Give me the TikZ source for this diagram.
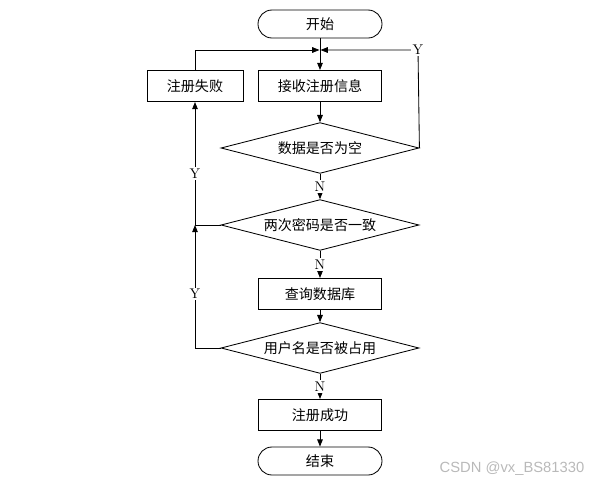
\documentclass[tikz,border=0pt]{standalone}
\usepackage{fontspec}
\newfontfamily\cjk{Noto Sans CJK SC}
\newfontfamily\wmfont{Liberation Sans}
\usetikzlibrary{shapes.geometric, arrows.meta, positioning, calc}

\begin{document}
\begin{tikzpicture}[
  line width=0.6pt,
  term/.style={rectangle, rounded corners=0.35cm, draw, minimum width=3.1cm, minimum height=0.7cm, font=\cjk\fontsize{10}{12}\selectfont},
  proc/.style={rectangle, draw, minimum width=3.08cm, minimum height=0.78cm, font=\cjk\fontsize{10}{12}\selectfont},
  decide/.style={diamond, draw, aspect=4, inner sep=0pt, minimum width=4.95cm, minimum height=1.27cm, font=\cjk\fontsize{10}{12}\selectfont},
  arrow/.style={-{Triangle[length=1.8mm, width=1.4mm]}},
  lbl/.style={fill=white, inner sep=1pt, font=\fontsize{10}{12}\selectfont}
]
\useasboundingbox (0,0) rectangle (15.025,-12.15);

\node[term] (start) at (8.0,-0.6) {开始};
\node[proc] (recv) at (8.0,-2.15) {接收注册信息};
\node[proc, minimum width=2.4cm] (fail) at (4.875,-2.15) {注册失败};
\node[decide] (empty) at (8.0,-3.7) {数据是否为空};
\node[decide] (same) at (8.0,-5.625) {两次密码是否一致};
\node[proc] (query) at (8.0,-7.35) {查询数据库};
\node[decide] (taken) at (8.0,-8.7) {用户名是否被占用};
\node[proc] (ok) at (8.0,-10.375) {注册成功};
\node[term] (stop) at (8.0,-11.525) {结束};

\coordinate (join) at (8.0,-1.25);
\coordinate (upright) at (10.45,-1.25);
\coordinate (upleft) at (4.875,-1.25);
\coordinate (back) at (4.875,-5.625);

% main flow
\draw[arrow] (start) -- (recv);
\draw[arrow] (recv) -- (empty);
\draw[arrow] (empty) -- node[lbl] {N} (same);
\draw[arrow] (same) -- node[lbl] {N} (query);
\draw[arrow] (query) -- (taken);
\draw[arrow] (taken) -- node[lbl] {N} (ok);
\draw[arrow] (ok) -- (stop);

% loops back
\draw[arrow, shorten >=0.4pt] (fail.north) |- (join);
\draw[arrow, shorten >=0.4pt] (empty.east) -- (upright) -- (join);
\node[lbl] (yes1) at (upright) {Y};
\draw[arrow] (same.west) -| node[lbl, pos=0.71] {Y} (fail.south);
\draw[arrow] (taken.west) -| node[lbl, pos=0.72] {Y} (back);

\node[text=gray!55, font=\wmfont\fontsize{10.5}{13}\selectfont] (mark) at (12.8,-11.72) {CSDN @vx\_BS81330};

\end{tikzpicture}
\end{document}
